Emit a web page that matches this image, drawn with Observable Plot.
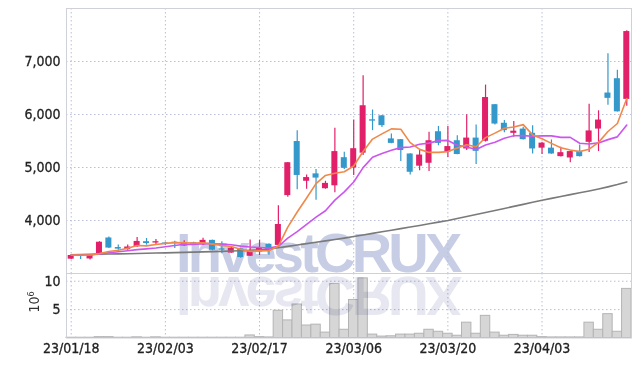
<!DOCTYPE html>
<html><head><meta charset="utf-8">
<script src="https://cdn.jsdelivr.net/npm/d3@7"></script>
<script src="https://cdn.jsdelivr.net/npm/@observablehq/plot@0.6"></script>
<style>
html,body{margin:0;padding:0;background:#fff;}
#wrap{position:relative;width:639px;height:366px;overflow:hidden;background:#fff;}
#price,#vol{position:absolute;left:0;z-index:2;}
#price{top:0;} #vol{top:273px;}
#price svg text,#vol svg text{stroke:#222;stroke-width:0.3px;}
.wm{position:absolute;left:176px;font-family:"Liberation Sans",Arial,sans-serif;font-weight:bold;font-size:56px;letter-spacing:-3.8px;white-space:nowrap;line-height:56px;pointer-events:none;}
#wm1{top:224.6px;color:#c7cde4;z-index:1;}
#wm2{top:229px;color:#e6e7f0;z-index:3;transform:scaleY(-1);transform-origin:0 47.4px;mix-blend-mode:multiply;}
#unit{position:absolute;left:24px;top:292px;width:20px;height:20px;z-index:4;font-family:"Noto Sans Condensed","DejaVu Sans Condensed",sans-serif;font-stretch:condensed;font-size:14px;color:#333;}
#unit span{position:absolute;left:50%;top:50%;transform:translate(-50%,-50%) rotate(-90deg);white-space:nowrap;}
#unit sup{font-size:9px;}
</style></head><body><div id="wrap">
<div class="wm" id="wm1">InvestCRUX</div>
<div id="price"></div>
<div id="vol"></div>
<div class="wm" id="wm2">InvestCRUX</div>
<div id="unit"><span>10<sup>6</sup></span></div>
</div>
<script>
const dates = ["23/01/18","23/01/19","23/01/20","23/01/25","23/01/26","23/01/27","23/01/30","23/01/31",
"23/02/01","23/02/02","23/02/03","23/02/06","23/02/07","23/02/08","23/02/09","23/02/10",
"23/02/13","23/02/14","23/02/15","23/02/16","23/02/17","23/02/20","23/02/21","23/02/22","23/02/23","23/02/24",
"23/02/27","23/02/28","23/03/02","23/03/03","23/03/06","23/03/07","23/03/08","23/03/09","23/03/10",
"23/03/13","23/03/14","23/03/15","23/03/16","23/03/17","23/03/20","23/03/21","23/03/22","23/03/23","23/03/24",
"23/03/27","23/03/28","23/03/29","23/03/30","23/03/31","23/04/03","23/04/04","23/04/05","23/04/06","23/04/07",
"23/04/10","23/04/11","23/04/12","23/04/13","23/04/14"];
const opens = [3270,3340,3275,3360,3670,3490,3450,3505,3600,3575,3580,3590,3520,3580,3540,3625,3465,3385,3465,3325,
3405,3550,3530,4470,5490,4740,4880,4600,4655,5185,4990,5270,5900,5975,5540,5525,5255,5025,5080,5675,
5290,5505,5350,5555,5495,6185,5835,5645,5725,5645,5365,5365,5205,5180,5305,5475,5725,6405,6675,6285];
const highs = [3350,3345,3355,3600,3690,3540,3540,3680,3660,3640,3590,3610,3620,3590,3665,3630,3600,3510,3475,3630,
3630,3560,4280,5095,5695,4860,4960,4740,5740,5290,5895,6730,6085,5980,5630,5530,5260,5320,5665,5775,
5775,5600,5995,5800,6555,6190,5885,5870,5760,5790,5470,5520,5380,5305,5425,6195,6070,7145,6835,7580];
const lows = [3260,3265,3255,3355,3470,3440,3440,3490,3535,3540,3530,3470,3515,3550,3530,3430,3375,3380,3290,3320,
3340,3345,3520,4440,4580,4590,4380,4590,4525,4960,4850,5225,5695,5755,5450,5115,4860,4940,4925,5410,
5190,5240,5320,5055,5480,5800,5655,5570,5520,5255,5245,5250,5200,5090,5200,5285,5300,6175,6045,6155];
const closes = [3340,3320,3350,3590,3480,3460,3500,3605,3565,3600,3570,3570,3580,3555,3625,3440,3440,3480,3300,3430,
3485,3450,3925,5090,4850,4810,4800,4700,5300,4985,5355,6165,5875,5790,5455,5320,4910,5235,5505,5455,
5395,5245,5555,5305,6320,5820,5695,5685,5525,5350,5460,5255,5280,5300,5205,5690,5895,6305,6050,7565];
const ma5 = [3350,3348,3348,3375,3416,3440,3476,3527,3522,3546,3568,3582,3577,3575,3580,3554,3528,3508,3457,3418,
3427,3429,3518,3876,4160,4425,4695,4850,4892,4919,5028,5301,5536,5634,5728,5721,5470,5342,5285,5285,
5300,5367,5431,5391,5564,5649,5739,5765,5809,5615,5543,5455,5374,5329,5300,5346,5474,5679,5830,6301];
const ma10 = [3345,3350,3355,3370,3390,3410,3430,3450,3465,3481,3504,3529,3552,3549,3563,3561,3555,3543,3516,3499,
3491,3479,3513,3667,3789,3926,4062,4184,4384,4540,4727,4998,5193,5263,5324,5375,5386,5439,5460,5507,
5511,5419,5387,5338,5425,5475,5553,5599,5601,5590,5597,5597,5569,5569,5457,5444,5464,5526,5578,5800];
const ma60 = [3355,3358,3361,3364,3367,3371,3374,3378,3382,3386,3390,3394,3398,3403,3408,3413,3418,3424,3430,3437,
3445,3462,3486,3512,3538,3564,3590,3616,3642,3668,3697,3727,3757,3787,3817,3847,3877,3907,3938,3969,
4000,4038,4076,4114,4152,4190,4228,4266,4304,4343,4383,4418,4453,4488,4523,4558,4595,4635,4678,4728];
const volumes = [0.05,0.05,0.05,0.15,0.15,0.05,0.05,0.12,0.05,0.12,0.05,0.05,0.05,0.05,0.05,0.05,0.05,0.05,0.05,0.45,
0.15,0.1,4.8,3.1,5.9,2.2,2.35,0.95,9.5,1.45,6.7,10.5,0.6,0.25,0.3,0.6,0.6,0.75,1.45,1.1,
0.75,0.4,2.7,0.75,3.9,0.95,0.4,0.55,0.4,0.4,0.15,0.1,0.1,0.1,0.1,2.7,1.45,4.2,1.1,8.65];
const xTickLabels = ["23/01/18","23/02/03","23/02/17","23/03/06","23/03/20","23/04/03"];
const priceTicks = [4000,5000,6000,7000];
const volTicks = [5,10];

const UP = "#e21f69", DOWN = "#3498cb", GRID = "#b9bfd6";
const FONT = '"Noto Sans Condensed","DejaVu Sans Condensed",sans-serif';
const rows = dates.map((d,i)=>({date:d, open:opens[i], high:highs[i], low:lows[i], close:closes[i],
  ma5:ma5[i], ma10:ma10[i], ma60:ma60[i], vol:volumes[i], col: closes[i] >= opens[i] ? UP : DOWN}));

const price = Plot.plot({
  width: 639, height: 273,
  marginLeft: 66, marginRight: 8, marginTop: 8, marginBottom: 0,
  style: {background:"transparent", fontFamily: FONT, fontSize:"14px", color:"#222", fontStretch:"condensed"},
  x: {type:"band", domain: dates, padding: 0, round: false, axis: null},
  y: {domain:[3000,8000], ticks: priceTicks, tickFormat: d3.format(","), tickSize: 0, tickPadding: 6, label: null},
  color: {type:"identity"},
  marks: [
    Plot.ruleY(priceTicks, {stroke: GRID, strokeDasharray:"1.5,2.5"}),
    Plot.ruleX(xTickLabels, {stroke: GRID, strokeDasharray:"1.5,2.5"}),
    Plot.frame({stroke:"#cfd0d8"}),
    Plot.ruleX(rows, {x:"date", y1:"low", y2:"high", stroke:"col", strokeWidth:1.2}),
    Plot.barY(rows, {x:"date", y1:"open", y2:"close", fill:"col", insetLeft:1.7, insetRight:1.7}),
    Plot.lineY(rows, {x:"date", y:"ma60", stroke:"#7a7a7a", strokeWidth:1.6}),
    Plot.lineY(rows, {x:"date", y:"ma10", stroke:"#cc55ee", strokeWidth:1.6}),
    Plot.lineY(rows, {x:"date", y:"ma5", stroke:"#f0884a", strokeWidth:1.6})
  ]
});
document.getElementById("price").append(price);

const vol = Plot.plot({
  width: 639, height: 93,
  marginLeft: 66, marginRight: 8, marginTop: 0, marginBottom: 28.5,
  style: {background:"transparent", fontFamily: FONT, fontSize:"14px", color:"#222", fontStretch:"condensed"},
  x: {type:"band", domain: dates, padding: 0, round: false, ticks: xTickLabels, tickSize: 0, tickPadding: 5, label: null},
  y: {domain:[0,11.36], ticks: volTicks, tickSize: 0, tickPadding: 6, label: null},
  marks: [
    Plot.ruleY(volTicks, {stroke: GRID, strokeDasharray:"1.5,2.5"}),
    Plot.ruleX(xTickLabels, {stroke: GRID, strokeDasharray:"1.5,2.5"}),
    Plot.barY(rows, {x:"date", y:"vol", fill:"#d6d6d6", stroke:"#b4b4b4", strokeWidth:1}),
    Plot.frame({stroke:"#cfd0d8"})
  ]
});
document.getElementById("vol").append(vol);
</script>
</body></html>
